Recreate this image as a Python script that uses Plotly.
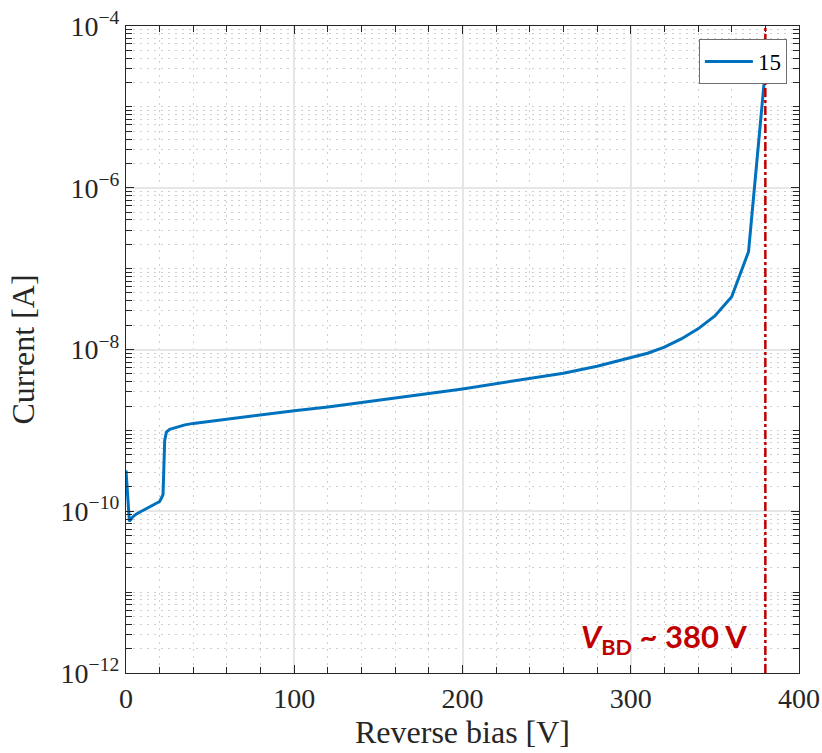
import plotly.graph_objects as go

# Reverse-bias I-V sweep
bias_v = [0, 2, 4, 6, 10, 15, 20, 21, 22, 23, 24, 26, 30, 35, 40, 50, 60, 80,
          100, 120, 140, 160, 180, 200, 220, 240, 260, 280, 300, 310, 320, 330,
          340, 350, 360, 370, 380]
current_a = [3.2e-10, 7.5e-11, 8.5e-11, 9.2e-11, 1.02e-10, 1.15e-10, 1.32e-10,
             1.45e-10, 1.6e-10, 7.5e-10, 9.5e-10, 1.03e-9, 1.1e-9, 1.17e-9,
             1.22e-9, 1.3e-9, 1.38e-9, 1.55e-9, 1.75e-9, 1.95e-9, 2.2e-9, 2.5e-9,
             2.85e-9, 3.25e-9, 3.75e-9, 4.35e-9, 5.1e-9, 6.2e-9, 7.9e-9, 9.0e-9,
             1.07e-8, 1.35e-8, 1.8e-8, 2.6e-8, 4.5e-8, 1.62e-7, 2.9e-5]
series_name = "15"
v_bd = 380

x_major = [0, 100, 200, 300, 400]
x_minor = [v for v in range(0, 401, 20) if v % 100 != 0]
y_exps = [-12, -10, -8, -6, -4]
y_major = [10.0 ** e for e in y_exps]
y_labels = ["10<sup>\u2212%d</sup>" % -e for e in y_exps]
y_minor = [k * 10.0 ** e for e in range(-12, -4) for k in range(1, 10)
           if not (k == 1 and e % 2 == 0)]

serif = "Liberation Serif"
ink = "#262626"
minor_grid = dict(ticks="inside", ticklen=6, tickwidth=1, tickcolor=ink,
                  showgrid=True, gridcolor="#cfcfcf", griddash="2px,5px",
                  gridwidth=1)

fig = go.Figure()
fig.add_trace(go.Scatter(x=bias_v, y=current_a, mode="lines", name=series_name,
                         line=dict(color="#0072BD", width=3)))

fig.add_shape(type="line", x0=v_bd, x1=v_bd, y0=0, y1=1, xref="x", yref="paper",
              line=dict(color="#C00000", width=2.5, dash="dashdot"), layer="above")

fig.add_annotation(x=370, y=-11.57, xref="x", yref="y",
                   text="<b><i>V</i><sub>BD</sub> ~ %d V</b>" % v_bd,
                   showarrow=False, xanchor="right", yanchor="middle",
                   font=dict(family="Lato", size=31, color="#C00000"))

axis_common = dict(
    showline=True, linecolor=ink, linewidth=1.3, mirror="ticks",
    ticks="inside", ticklen=8, tickwidth=1, tickcolor=ink,
    showgrid=True, gridcolor="#e6e6e6", gridwidth=2,
    zeroline=False, automargin=False,
    tickfont=dict(family=serif, size=28, color=ink),
    title_font=dict(family=serif, size=32, color=ink),
)

fig.update_xaxes(
    range=[0, 400], tickmode="array", tickvals=x_major,
    minor=dict(tickmode="array", tickvals=x_minor, **minor_grid),
    title_text="Reverse bias [V]", title_standoff=4,
    **axis_common,
)
fig.update_yaxes(
    type="log", range=[-12, -4], tickmode="array", tickvals=y_major,
    ticktext=y_labels,
    minor=dict(tickmode="array", tickvals=y_minor, **minor_grid),
    title_text="Current [A]", title_standoff=16,
    **axis_common,
)

fig.update_layout(
    width=822, height=753,
    margin=dict(l=126, r=23, t=26, b=80),
    paper_bgcolor="white", plot_bgcolor="white",
    showlegend=True,
    legend=dict(x=0.982, y=0.98, xanchor="right", yanchor="top",
                bgcolor="white", bordercolor="#6f6f6f", borderwidth=1,
                font=dict(family=serif, size=23, color="black"),
                itemwidth=48, tracegroupgap=0),
)

fig.write_html("out.html")
